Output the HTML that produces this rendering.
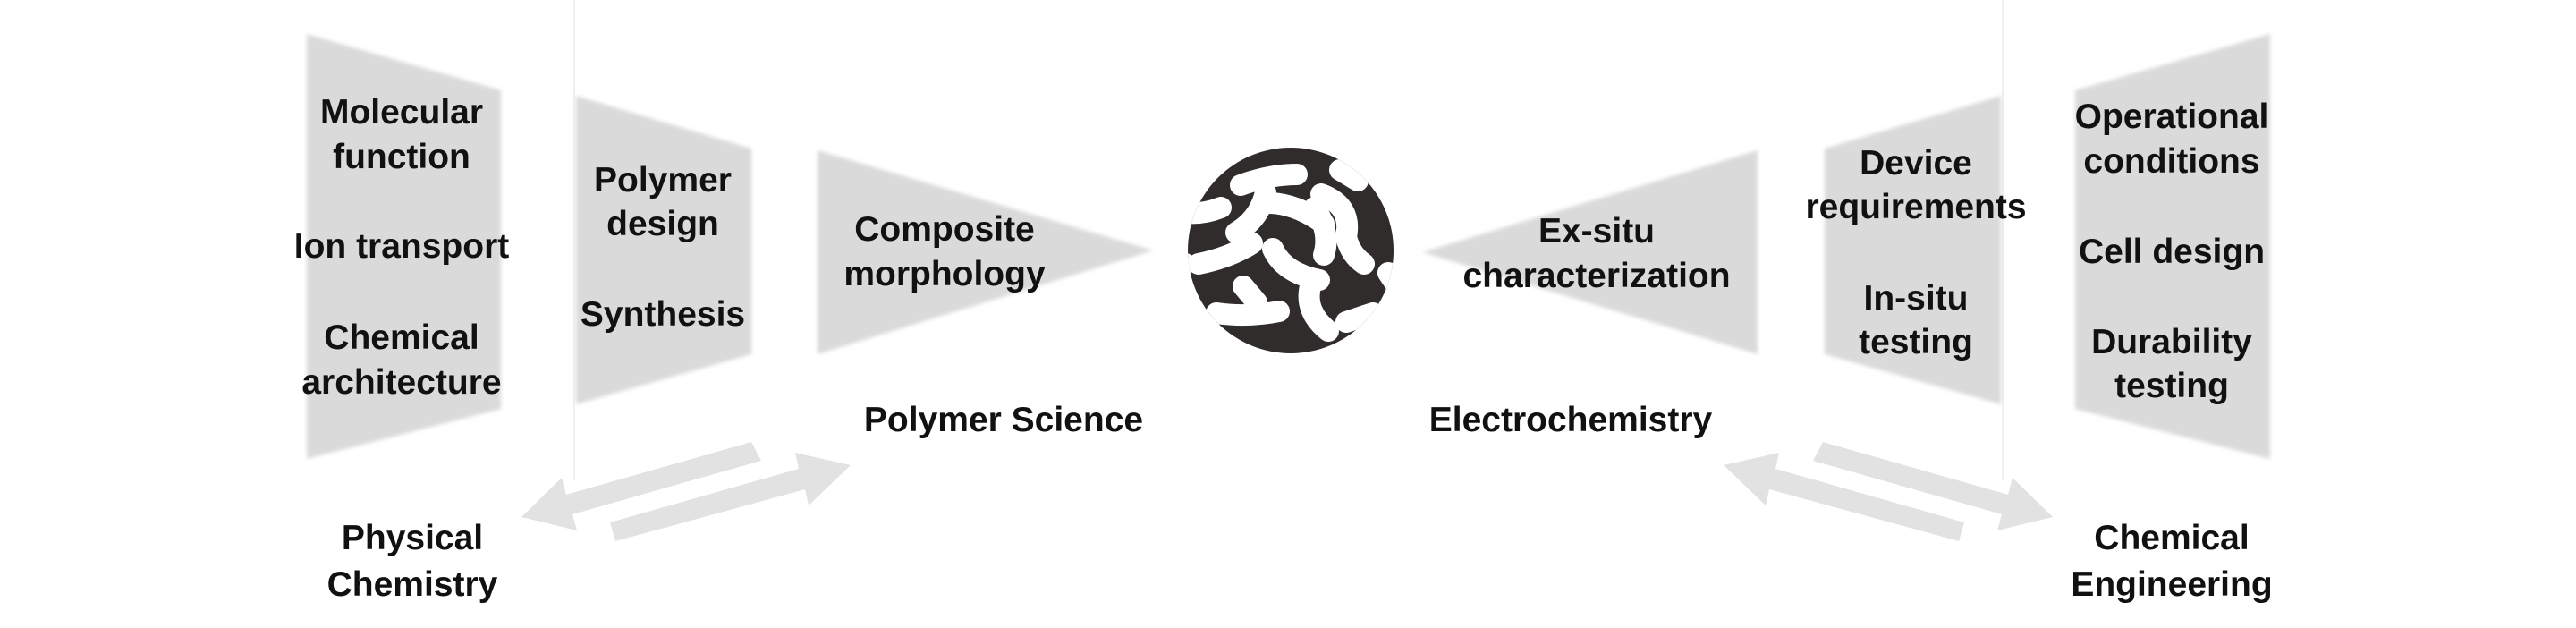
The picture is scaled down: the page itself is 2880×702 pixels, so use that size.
<!DOCTYPE html>
<html><head><meta charset="utf-8"><style>
html,body{margin:0;padding:0;background:#fff;}
svg{display:block;}
text{font-family:"Liberation Sans",sans-serif;font-weight:bold;font-size:39px;fill:#111;text-anchor:middle;}
</style></head><body>
<svg width="2880" height="702" viewBox="0 0 2880 702" xmlns="http://www.w3.org/2000/svg">
<defs>
<filter id="b" x="-10%" y="-10%" width="120%" height="120%"><feGaussianBlur stdDeviation="2"/></filter>
<clipPath id="cc"><circle cx="123" cy="120" r="115"/></clipPath>
</defs>
<line x1="642" y1="0" x2="642" y2="537" stroke="#f0f0f0" stroke-width="2"/>
<line x1="2239" y1="0" x2="2239" y2="537" stroke="#f0f0f0" stroke-width="2"/>
<g fill="#dadada" filter="url(#b)">
<polygon points="343,38 560,101 560,457 343,513"/>
<polygon points="644,107 840,166 840,396 644,452"/>
<polygon points="914,168 1289,280 914,396"/>
<polygon points="1590,282 1965,168 1965,396"/>
<polygon points="2040,166 2237,107 2237,452 2040,396"/>
<polygon points="2320,101 2538,38 2538,513 2320,457"/>
</g>
<g fill="#e2e2e2">
<polygon points="840,494 851,515 640,575 645,593 583,578 628,534 633,553"/>
<polygon points="682,584 688,605 900,547 904,565 951,520 889,506 893,524"/>
<polygon points="2038,494 2027,515 2238,575 2233,593 2295,578 2250,534 2245,553"/>
<polygon points="2196,584 2190,605 1978,547 1974,565 1927,520 1989,506 1985,524"/>
</g>
<g transform="translate(1320,160)">
<circle cx="123" cy="120" r="115" fill="#2f2c2b"/>
<g clip-path="url(#cc)" fill="none" stroke="#fff" stroke-width="24" stroke-linecap="round" stroke-linejoin="round">
<path d="M67,47 Q100,35 130,35"/>
<path d="M95,55 Q88,85 62,100"/>
<path d="M100,67 Q130,68 160,90"/>
<path d="M150,72 Q168,100 160,125"/>
<path d="M178,30 L198,42"/>
<path d="M157,57 Q192,70 185,105 Q190,125 205,135"/>
<path d="M-5,75 L5,78 Q25,80 45,72"/>
<path d="M20,135 Q55,128 80,112"/>
<path d="M103,118 Q115,145 155,153"/>
<path d="M70,160 L85,178"/>
<path d="M40,190 Q75,195 110,188"/>
<path d="M145,160 Q138,188 165,210"/>
<path d="M185,200 L215,190"/>
<path d="M232,145 L242,160"/>
<path d="M20,40 L30,30"/>
<path d="M-5,130 L5,135"/>
</g>
</g>
<text x="449" y="138">Molecular</text>
<text x="449" y="188">function</text>
<text x="449" y="288">Ion transport</text>
<text x="449" y="390">Chemical</text>
<text x="449" y="440">architecture</text>
<text x="741" y="214">Polymer</text>
<text x="741" y="263">design</text>
<text x="741" y="364">Synthesis</text>
<text x="1056" y="269">Composite</text>
<text x="1056" y="319">morphology</text>
<text x="1122" y="482">Polymer Science</text>
<text x="461" y="614">Physical</text>
<text x="461" y="666">Chemistry</text>
<text x="1785" y="271">Ex-situ</text>
<text x="1785" y="321">characterization</text>
<text x="2142" y="195">Device</text>
<text x="2142" y="244">requirements</text>
<text x="2142" y="346">In-situ</text>
<text x="2142" y="395">testing</text>
<text x="2428" y="143">Operational</text>
<text x="2428" y="193">conditions</text>
<text x="2428" y="294">Cell design</text>
<text x="2428" y="395">Durability</text>
<text x="2428" y="444">testing</text>
<text x="1756" y="482">Electrochemistry</text>
<text x="2428" y="614">Chemical</text>
<text x="2428" y="666">Engineering</text>
</svg>
</body></html>
